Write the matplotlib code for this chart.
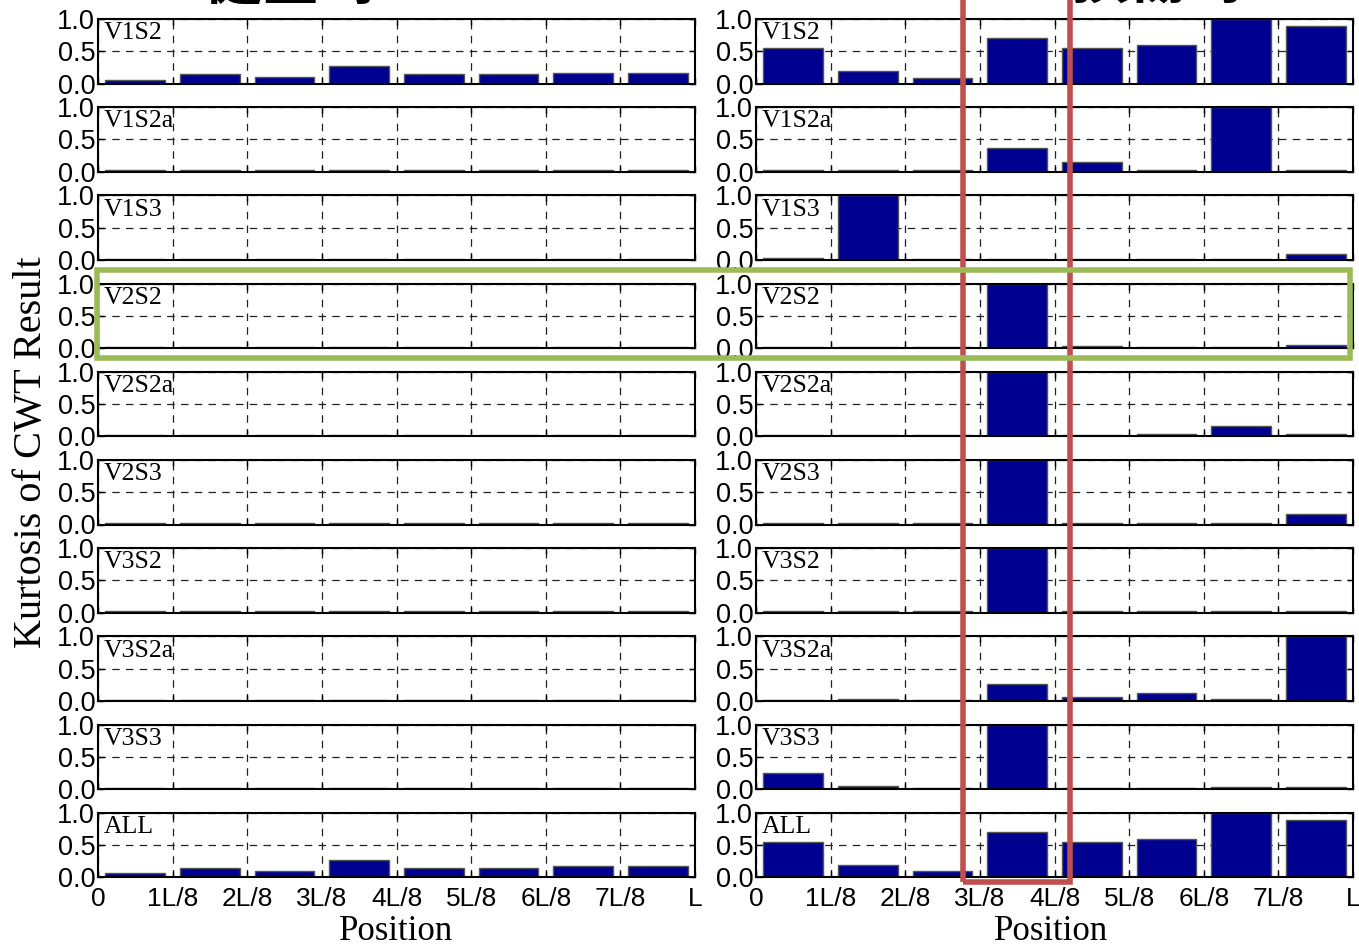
import matplotlib
matplotlib.use("Agg")
import matplotlib.pyplot as plt
from matplotlib.patches import Rectangle

# Data: normalized kurtosis of CWT result at 8 positions along the span
positions = ["0", "1L/8", "2L/8", "3L/8", "4L/8", "5L/8", "6L/8", "7L/8", "L"]
cases = ["V1S2", "V1S2a", "V1S3", "V2S2", "V2S2a", "V2S3", "V3S2", "V3S2a", "V3S3", "ALL"]

healthy_title = "健全時"
damaged_title = "損傷時"

healthy_v1s2 = [0.06, 0.15, 0.10, 0.27, 0.15, 0.15, 0.17, 0.17]
healthy_v1s2a = [0.02, 0.02, 0.02, 0.02, 0.02, 0.02, 0.02, 0.02]
healthy_v1s3 = [0.02, 0.02, 0.02, 0.02, 0.02, 0.02, 0.02, 0.02]
healthy_v2s2 = [0.02, 0.02, 0.02, 0.02, 0.02, 0.02, 0.02, 0.02]
healthy_v2s2a = [0.02, 0.02, 0.02, 0.02, 0.02, 0.02, 0.02, 0.02]
healthy_v2s3 = [0.02, 0.02, 0.02, 0.02, 0.02, 0.02, 0.02, 0.02]
healthy_v3s2 = [0.02, 0.02, 0.02, 0.02, 0.02, 0.02, 0.02, 0.02]
healthy_v3s2a = [0.02, 0.02, 0.02, 0.02, 0.02, 0.02, 0.02, 0.02]
healthy_v3s3 = [0.02, 0.02, 0.02, 0.02, 0.02, 0.02, 0.02, 0.02]
healthy_all = [0.06, 0.15, 0.10, 0.27, 0.15, 0.15, 0.17, 0.17]

damaged_v1s2 = [0.55, 0.19, 0.09, 0.71, 0.55, 0.59, 1.00, 0.89]
damaged_v1s2a = [0.02, 0.03, 0.02, 0.36, 0.15, 0.02, 1.00, 0.02]
damaged_v1s3 = [0.03, 1.00, 0.02, 0.02, 0.02, 0.02, 0.02, 0.09]
damaged_v2s2 = [0.02, 0.02, 0.02, 1.00, 0.03, 0.02, 0.02, 0.05]
damaged_v2s2a = [0.02, 0.02, 0.02, 1.00, 0.02, 0.03, 0.16, 0.03]
damaged_v2s3 = [0.02, 0.03, 0.03, 1.00, 0.02, 0.02, 0.02, 0.17]
damaged_v3s2 = [0.02, 0.02, 0.02, 1.00, 0.02, 0.02, 0.02, 0.03]
damaged_v3s2a = [0.02, 0.03, 0.02, 0.26, 0.06, 0.13, 0.03, 1.00]
damaged_v3s3 = [0.25, 0.05, 0.02, 1.00, 0.02, 0.02, 0.03, 0.03]
damaged_all = [0.55, 0.19, 0.09, 0.71, 0.55, 0.59, 1.00, 0.89]

healthy = [healthy_v1s2, healthy_v1s2a, healthy_v1s3, healthy_v2s2, healthy_v2s2a,
           healthy_v2s3, healthy_v3s2, healthy_v3s2a, healthy_v3s3, healthy_all]
damaged = [damaged_v1s2, damaged_v1s2a, damaged_v1s3, damaged_v2s2, damaged_v2s2a,
           damaged_v2s3, damaged_v3s2, damaged_v3s2a, damaged_v3s3, damaged_all]

W, H = 1359, 948
fig = plt.figure(figsize=(W / 100, H / 100), dpi=100)

sans = "Liberation Sans"
serif = "Liberation Serif"
bar_color = "#000090"


def draw_panel(ax, values, label, bottom_row):
    x = [i + 0.1 for i in range(len(values))]
    ax.bar(x, values, width=0.8, align="edge", color=bar_color,
           edgecolor="#555555", linewidth=1, zorder=2)
    ax.set_xlim(0, 8)
    ax.set_ylim(0, 1)
    ax.set_yticks([0, 0.5, 1.0])
    ax.set_yticklabels(["0.0", "0.5", "1.0"], fontfamily=sans, fontsize=19.5)
    ax.set_xticks(range(9))
    if bottom_row:
        ax.set_xticklabels(positions, fontfamily=sans, fontsize=19)
    else:
        ax.set_xticklabels([])
    ax.tick_params(direction="in", length=4, width=1, top=True, right=True, pad=2)
    ax.tick_params(axis="x", pad=7)
    ax.grid(True, color="#222222", linestyle=(0, (6, 5)), linewidth=0.9, zorder=0)
    ax.set_axisbelow(True)
    for s in ax.spines.values():
        s.set_linewidth(1.5)
    ax.text(0.08, 0.95, label, fontfamily=serif, fontsize=18.5, va="top", ha="left",
            zorder=5)


lefts = [98, 756]
width_px = 597
for col, data in enumerate([healthy, damaged]):
    for i, (vals, name) in enumerate(zip(data, cases)):
        top = 19 + 88.2 * i
        h = 64.5
        ax = fig.add_axes([lefts[col] / W, 1 - (top + h) / H, width_px / W, h / H])
        draw_panel(ax, vals, name, i == len(cases) - 1)

# axis labels
fig.text(396 / W, 1 - 931 / H, "Position", fontfamily=serif, fontsize=25,
         ha="center", va="center")
fig.text(1051 / W, 1 - 931 / H, "Position", fontfamily=serif, fontsize=25,
         ha="center", va="center")
fig.text(32 / W, 1 - 452 / H, "Kurtosis of CWT Result", fontfamily=serif,
         fontsize=29, rotation=90, ha="center", va="center")

# titles (partly cut off at the top of the image, as in the reference)
fig.text(291 / W, 1 - 12 / H, healthy_title, fontfamily="Noto Sans CJK JP",
         fontweight="bold", fontsize=42, ha="center", va="bottom")
fig.text(1158 / W, 1 - 12 / H, damaged_title, fontfamily="Noto Sans CJK JP",
         fontweight="bold", fontsize=42, ha="center", va="bottom")

# highlight boxes
fig.patches.append(Rectangle((963 / W, 1 - 882 / H), 107 / W, 890 / H,
                             transform=fig.transFigure, fill=False,
                             edgecolor="#c0504d", linewidth=4, zorder=10))
fig.patches.append(Rectangle((97 / W, 1 - 358 / H), 1253 / W, 88 / H,
                             transform=fig.transFigure, fill=False,
                             edgecolor="#9bbb59", linewidth=4, zorder=10))

fig.savefig("out.png", dpi=100)
